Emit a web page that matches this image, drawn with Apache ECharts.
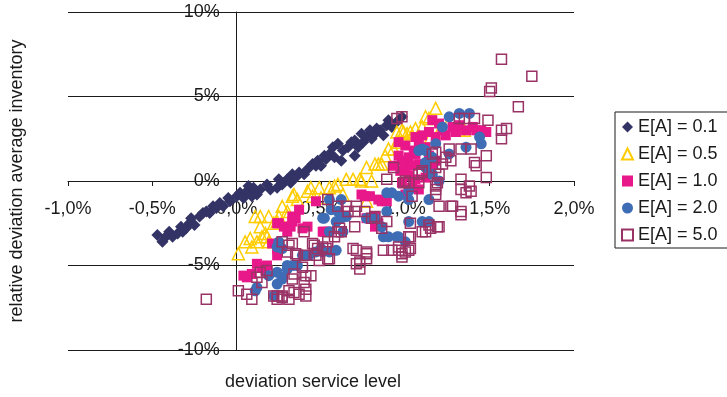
<!DOCTYPE html>
<html>
<head>
<meta charset="utf-8">
<script src="https://cdn.jsdelivr.net/npm/echarts@6/dist/echarts.min.js"></script>
<style>
  html, body { margin: 0; padding: 0; background: #fff; }
  #chart { width: 727px; height: 397px; }
</style>
</head>
<body>
<div id="chart"></div>
<script>
// Deviation in service level (x, %) vs. relative deviation of average inventory (y, %)
const seriesNames = ['E[A] = 0.1', 'E[A] = 0.5', 'E[A] = 1.0', 'E[A] = 2.0', 'E[A] = 5.0'];

const ea01 = [[-0.47,-3.2],[-0.44,-3.6],[-0.42,-3.3],[-0.40,-3.0],[-0.38,-3.3],[-0.35,-3.1],[-0.33,-2.7],[-0.32,-3.0],[-0.30,-2.8],[-0.28,-2.5],[-0.27,-2.2],[-0.25,-2.6],[-0.22,-2.1],[-0.20,-1.9],[-0.18,-1.8],[-0.16,-1.9],[-0.14,-1.5],[-0.12,-1.6],[-0.10,-1.3],[-0.08,-1.5],[-0.05,-1.0],[-0.04,-1.2],[0.00,-0.9],[0.02,-0.7],[0.04,-1.0],[0.06,-0.6],[0.07,-0.3],[0.09,-0.9],[0.10,-0.4],[0.12,-0.8],[0.14,-0.5],[0.18,-0.2],[0.20,-0.5],[0.24,-0.4],[0.25,0.1],[0.27,-0.2],[0.30,0.1],[0.32,-0.1],[0.33,0.4],[0.35,0.2],[0.37,0.5],[0.40,0.4],[0.42,0.7],[0.45,1.0],[0.47,0.9],[0.48,1.2],[0.50,0.9],[0.52,1.5],[0.53,1.3],[0.55,1.6],[0.57,2.0],[0.58,1.4],[0.60,2.2],[0.62,1.2],[0.63,1.8],[0.66,2.0],[0.68,2.3],[0.70,2.4],[0.70,1.5],[0.72,2.0],[0.74,2.8],[0.75,2.3],[0.77,2.6],[0.79,3.0],[0.80,2.5],[0.82,2.8],[0.83,3.1],[0.85,3.0],[0.87,2.7],[0.89,3.3],[0.90,3.6],[0.92,3.2],[0.95,3.5],[0.98,3.8]];

const ea05 = [[0.01,-4.3],[0.05,-3.6],[0.08,-3.4],[0.09,-3.9],[0.11,-2.1],[0.12,-3.6],[0.14,-2.7],[0.14,-2.1],[0.15,-3.3],[0.17,-3.1],[0.18,-3.3],[0.19,-2.1],[0.19,-3.6],[0.22,-2.5],[0.24,-2.4],[0.25,-2.1],[0.27,-1.5],[0.30,-2.1],[0.30,-1.8],[0.33,-0.9],[0.34,-0.8],[0.36,-1.1],[0.42,-0.6],[0.44,-0.4],[0.45,-0.9],[0.49,-0.4],[0.50,-1.0],[0.55,-0.4],[0.58,-0.3],[0.60,-0.2],[0.63,-0.8],[0.65,0.1],[0.69,0.1],[0.73,0.1],[0.74,0.0],[0.77,0.8],[0.77,-1.2],[0.80,0.0],[0.82,1.0],[0.84,1.0],[0.86,1.0],[0.88,1.5],[0.90,1.9],[0.93,1.9],[0.95,2.9],[0.96,2.3],[0.98,3.0],[0.99,2.9],[1.01,2.8],[1.03,2.9],[1.04,2.7],[1.06,3.1],[1.10,3.2],[1.12,3.8],[1.14,3.7],[1.15,2.6],[1.18,4.3],[1.20,2.9],[1.25,3.3],[1.32,3.0],[1.35,3.0]];

const ea10 = [[0.04,-5.6],[0.06,-5.7],[0.09,-5.5],[0.12,-4.9],[0.15,-5.1],[0.17,-5.3],[0.18,-5.0],[0.21,-3.7],[0.24,-4.0],[0.24,-2.5],[0.24,-4.4],[0.25,-2.5],[0.28,-2.7],[0.30,-3.0],[0.32,-2.7],[0.33,-2.4],[0.33,-2.1],[0.35,-2.2],[0.37,-1.7],[0.39,-2.8],[0.42,-2.7],[0.47,-1.2],[0.51,-3.0],[0.52,-3.0],[0.55,-3.0],[0.74,-0.8],[0.76,-0.9],[0.77,-2.2],[0.79,-0.9],[0.80,-2.2],[0.82,-2.1],[0.82,-2.7],[0.84,-1.1],[0.84,-2.5],[0.86,-1.2],[0.89,-1.2],[0.93,0.9],[0.96,1.5],[0.96,2.3],[0.97,0.6],[0.98,-0.1],[0.98,1.2],[1.00,2.1],[1.00,1.0],[1.00,0.6],[1.00,-0.8],[1.02,1.4],[1.02,0.3],[1.04,0.9],[1.04,-0.4],[1.05,1.8],[1.06,2.6],[1.06,1.6],[1.06,0.1],[1.08,2.3],[1.08,1.0],[1.08,-0.5],[1.10,2.7],[1.12,2.0],[1.12,0.2],[1.14,2.9],[1.14,1.5],[1.16,1.0],[1.16,3.6],[1.18,2.6],[1.18,1.2],[1.20,3.4],[1.22,3.0],[1.24,2.7],[1.28,3.2],[1.30,2.9],[1.32,3.3],[1.36,3.0],[1.40,3.2],[1.42,3.0],[1.45,3.0],[1.48,2.9]];

const ea20 = [[0.11,-6.5],[0.12,-6.3],[0.19,-5.6],[0.22,-6.8],[0.24,-5.4],[0.24,-6.1],[0.24,-3.9],[0.25,-3.6],[0.27,-5.7],[0.27,-5.8],[0.27,-4.0],[0.30,-5.2],[0.30,-5.0],[0.33,-5.0],[0.36,-5.0],[0.39,-4.4],[0.43,-4.4],[0.47,-4.2],[0.50,-4.0],[0.51,-4.2],[0.51,-2.2],[0.52,-2.2],[0.55,-4.2],[0.55,-3.0],[0.55,-1.1],[0.56,-1.7],[0.59,-4.1],[0.59,-2.4],[0.60,-1.8],[0.62,-1.1],[0.62,-2.2],[0.63,-3.0],[0.65,-2.1],[0.77,-2.2],[0.82,-2.2],[0.86,-2.7],[0.87,-3.3],[0.89,-0.7],[0.89,-1.8],[0.90,-3.3],[0.92,-0.7],[0.95,-3.3],[0.96,-0.9],[0.96,-3.3],[1.00,-3.6],[1.02,-1.1],[1.02,-0.6],[1.02,-2.4],[1.08,1.8],[1.10,1.9],[1.10,-2.4],[1.12,1.1],[1.12,1.8],[1.12,0.8],[1.14,-2.4],[1.14,-1.1],[1.16,1.4],[1.16,0.4],[1.18,2.2],[1.20,0.0],[1.22,3.2],[1.26,3.8],[1.26,1.6],[1.32,4.0],[1.36,2.0],[1.38,4.0],[1.44,2.6],[1.45,2.2]];

const ea50 = [[-0.18,-7.0],[0.01,-6.5],[0.06,-6.7],[0.09,-7.0],[0.12,-5.7],[0.14,-5.4],[0.15,-6.0],[0.18,-5.3],[0.22,-6.8],[0.24,-6.8],[0.24,-7.0],[0.27,-6.8],[0.27,-6.9],[0.27,-3.6],[0.30,-4.2],[0.31,-3.8],[0.31,-6.5],[0.31,-7.0],[0.33,-3.7],[0.33,-5.8],[0.34,-5.5],[0.34,-6.6],[0.35,-4.3],[0.36,-4.4],[0.37,-6.7],[0.39,-5.1],[0.40,-3.0],[0.40,-4.4],[0.40,-6.0],[0.41,-5.6],[0.41,-6.4],[0.41,-6.8],[0.44,-5.6],[0.45,-3.7],[0.46,-3.8],[0.47,-4.4],[0.48,-4.0],[0.49,-4.7],[0.51,-3.9],[0.53,-4.0],[0.54,-1.1],[0.54,-3.6],[0.54,-4.6],[0.55,-4.6],[0.58,-3.3],[0.60,-1.5],[0.60,-3.0],[0.61,-2.8],[0.62,-3.0],[0.65,-1.5],[0.66,-1.8],[0.69,-4.0],[0.70,-1.8],[0.70,-2.7],[0.71,-1.5],[0.71,-4.1],[0.71,-4.9],[0.73,-4.8],[0.73,-5.2],[0.76,-1.8],[0.77,-4.2],[0.77,-4.3],[0.77,-4.6],[0.80,-2.2],[0.82,-2.1],[0.86,-2.8],[0.87,-4.1],[0.89,-2.4],[0.89,0.1],[0.92,-4.1],[0.93,0.8],[0.95,3.7],[0.96,-3.9],[0.96,-4.1],[0.98,3.8],[0.98,-4.3],[0.98,-4.5],[0.99,-0.1],[1.00,0.0],[1.00,-4.2],[1.02,-0.1],[1.02,-3.3],[1.02,-4.1],[1.03,-2.5],[1.03,-3.3],[1.03,-4.0],[1.04,-0.9],[1.08,-0.1],[1.08,0.4],[1.10,0.5],[1.10,0.6],[1.10,-3.0],[1.12,-3.0],[1.14,-2.6],[1.15,-2.8],[1.16,1.6],[1.18,1.7],[1.18,0.8],[1.18,-0.3],[1.18,-0.5],[1.18,-0.8],[1.19,-0.1],[1.19,-2.7],[1.20,-1.5],[1.20,-2.7],[1.20,0.4],[1.22,1.0],[1.24,1.4],[1.26,1.9],[1.27,1.2],[1.27,-1.5],[1.28,-1.5],[1.32,3.7],[1.33,1.9],[1.33,0.1],[1.33,-0.5],[1.33,-1.8],[1.33,-2.0],[1.35,3.7],[1.36,-0.7],[1.38,-0.3],[1.39,1.9],[1.39,-0.6],[1.41,3.7],[1.41,1.1],[1.42,0.9],[1.48,1.5],[1.48,0.2],[1.49,3.6],[1.50,5.3],[1.51,5.5],[1.57,7.2],[1.57,3.0],[1.57,2.5],[1.60,3.1],[1.67,4.4],[1.75,6.2]];

const xTicks = { min: -1, max: 2, step: 0.5 };
const yTicks = { min: -10, max: 10, step: 5 };

const FONT = "'Liberation Sans', Arial, sans-serif";
const INK = '#1a1a1a';
const HOLLOW = 'rgba(255,255,255,0)';

const chart = echarts.init(document.getElementById('chart'), null, { renderer: 'canvas' });

function fmtX(v) {
  const s = (Math.abs(v) < 1e-9 ? 0 : v).toFixed(1).replace('.', ',');
  return s + '%';
}

chart.setOption({
  animation: false,
  backgroundColor: '#fff',
  textStyle: { fontFamily: FONT },
  grid: { left: 68, right: 153, top: 12, bottom: 47, containLabel: false },
  xAxis: {
    type: 'value', position: 'bottom',
    min: xTicks.min, max: xTicks.max, interval: xTicks.step,
    axisLine: { show: true, onZero: false, lineStyle: { color: INK, width: 1 } },
    axisTick: { show: true, length: 5, lineStyle: { color: INK } },
    axisLabel: { formatter: fmtX, fontSize: 18, color: INK, fontFamily: FONT, margin: 19 },
    splitLine: { show: false }
  },
  yAxis: {
    type: 'value', position: 'left',
    min: yTicks.min, max: yTicks.max, interval: yTicks.step,
    axisLine: { show: true, onZero: false, lineStyle: { color: INK, width: 1 } },
    axisTick: { show: true, length: 5, lineStyle: { color: INK } },
    axisLabel: { formatter: v => v + '%', fontSize: 18, color: INK, fontFamily: FONT, margin: 17 },
    splitLine: { show: true, lineStyle: { color: INK, width: 1 } }
  },
  legend: {
    orient: 'vertical',
    left: 615, top: 112,
    padding: [6, 40, 4, 6],
    itemGap: 9,
    itemWidth: 11, itemHeight: 11,
    borderColor: INK, borderWidth: 1,
    textStyle: { fontSize: 18, color: INK, fontFamily: FONT },
    data: seriesNames
  },
  graphic: [
    { type: 'text', x: 313, y: 382,
      style: { text: 'deviation service level', font: '18px ' + FONT, fill: INK,
               align: 'center', verticalAlign: 'middle', textAlign: 'center', textVerticalAlign: 'middle' } },
    { type: 'text', x: 17, y: 181, rotation: Math.PI / 2,
      style: { text: 'relative deviation average inventory', font: '18px ' + FONT, fill: INK,
               align: 'center', verticalAlign: 'middle', textAlign: 'center', textVerticalAlign: 'middle' } }
  ],
  series: [
    { name: seriesNames[0], type: 'scatter', data: ea01, symbol: 'diamond', symbolSize: 12,
      itemStyle: { color: '#333366', opacity: 1 } },
    { name: seriesNames[1], type: 'scatter', data: ea05, symbol: 'triangle', symbolSize: 12,
      itemStyle: { color: HOLLOW, borderColor: '#FFCC00', borderWidth: 1.5, opacity: 1 } },
    { name: seriesNames[2], type: 'scatter', data: ea10, symbol: 'rect', symbolSize: 10,
      itemStyle: { color: '#E8178A', opacity: 1 } },
    { name: seriesNames[3], type: 'scatter', data: ea20, symbol: 'circle', symbolSize: 11,
      itemStyle: { color: '#3F6DB5', opacity: 1 } },
    { name: seriesNames[4], type: 'scatter', data: ea50, symbol: 'rect', symbolSize: 10,
      itemStyle: { color: HOLLOW, borderColor: '#993366', borderWidth: 1.5, opacity: 1 } }
  ]
});

// Move both axes (line, ticks and labels) so they cross at the origin.
const origin = chart.convertToPixel({ gridIndex: 0 }, [0, 0]);
const corner = chart.convertToPixel({ gridIndex: 0 }, [xTicks.min, yTicks.min]);
chart.setOption({
  xAxis: { offset: -(corner[1] - origin[1]) },
  yAxis: { offset: -(origin[0] - corner[0]) }
});
</script>
</body>
</html>
